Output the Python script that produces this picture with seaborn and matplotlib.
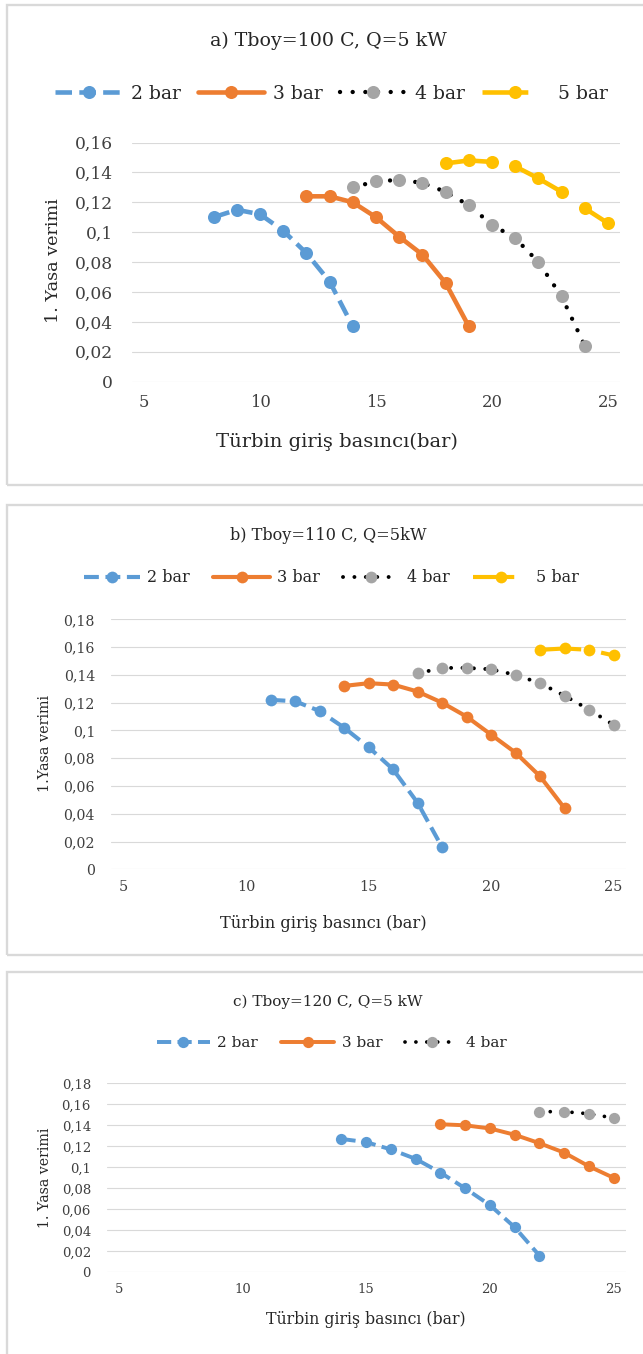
import matplotlib
matplotlib.use("Agg")
import matplotlib.pyplot as plt
import seaborn as sns
from matplotlib.patches import Rectangle
from matplotlib.ticker import MultipleLocator, FuncFormatter

# ---------------- data ----------------
series_labels = ["2 bar", "3 bar", "4 bar", "5 bar"]

a_x2 = [8, 9, 10, 11, 12, 13, 14]
a_y2 = [0.110, 0.115, 0.112, 0.101, 0.086, 0.067, 0.037]
a_x3 = [12, 13, 14, 15, 16, 17, 18, 19]
a_y3 = [0.124, 0.124, 0.120, 0.110, 0.097, 0.085, 0.066, 0.037]
a_x4 = [14, 15, 16, 17, 18, 19, 20, 21, 22, 23, 24]
a_y4 = [0.130, 0.134, 0.135, 0.133, 0.127, 0.118, 0.105, 0.096, 0.080, 0.057, 0.024]
a_x5 = [18, 19, 20, 21, 22, 23, 24, 25]
a_y5 = [0.146, 0.148, 0.147, 0.144, 0.136, 0.127, 0.116, 0.106]

b_x2 = [11, 12, 13, 14, 15, 16, 17, 18]
b_y2 = [0.122, 0.121, 0.114, 0.102, 0.088, 0.072, 0.048, 0.016]
b_x3 = [14, 15, 16, 17, 18, 19, 20, 21, 22, 23]
b_y3 = [0.132, 0.134, 0.133, 0.128, 0.120, 0.110, 0.097, 0.084, 0.067, 0.044]
b_x4 = [17, 18, 19, 20, 21, 22, 23, 24, 25]
b_y4 = [0.141, 0.145, 0.145, 0.144, 0.140, 0.134, 0.125, 0.115, 0.104]
b_x5 = [22, 23, 24, 25]
b_y5 = [0.158, 0.159, 0.158, 0.154]

c_x2 = [14, 15, 16, 17, 18, 19, 20, 21, 22]
c_y2 = [0.127, 0.124, 0.117, 0.108, 0.095, 0.080, 0.064, 0.043, 0.016]
c_x3 = [18, 19, 20, 21, 22, 23, 24, 25]
c_y3 = [0.141, 0.140, 0.137, 0.131, 0.123, 0.114, 0.101, 0.090]
c_x4 = [22, 23, 24, 25]
c_y4 = [0.153, 0.153, 0.151, 0.147]

titles = ["a) Tboy=100 C, Q=5 kW", "b) Tboy=110 C, Q=5kW", "c) Tboy=120 C, Q=5 kW"]
xlabels = ["Türbin giriş basıncı(bar)", "Türbin giriş basıncı (bar)", "Türbin giriş basıncı (bar)"]
ylabels = ["1. Yasa verimi", "1.Yasa verimi", "1. Yasa verimi"]
x_ticks = [5, 10, 15, 20, 25]

BLUE, ORANGE, GRAY, YELLOW = "#5B9BD5", "#ED7D31", "#A5A5A5", "#FFC000"
GRID = "#D9D9D9"

# ---------------- figure ----------------
sns.set_style("white")
plt.rcParams["font.family"] = ["DejaVu Serif"]
W, H = 643, 1354
fig = plt.figure(figsize=(W / 100, H / 100), dpi=100)
fig.patch.set_facecolor("white")


def fx(x):
    return x / W


def fy(y):
    return 1 - y / H


def frame(y0, y1):
    fig.add_artist(Rectangle((fx(7), fy(y1)), fx(660 - 7), (y1 - y0) / H,
                             transform=fig.transFigure, fill=False,
                             ec=GRID, lw=1.7, zorder=0))


def make_axes(left, right, top, bottom):
    return fig.add_axes([fx(left), fy(bottom), (right - left) / W, (bottom - top) / H])


def fmt_y(v, pos):
    if abs(v) < 1e-9:
        return "0"
    return f"{v:.2f}".rstrip("0").rstrip(".").replace(".", ",")


def draw_panel(ax, series, s, ymax, tick_fs, ypad, xpad):
    lw = 3.3 * s
    ms = 9.4 * s
    for (xs, ys, kind, lab) in series:
        common = dict(x=xs, y=ys, ax=ax, marker="o", markersize=ms,
                      markeredgewidth=0, label=lab, legend=False,
                      sort=False, estimator=None, clip_on=False)
        if kind == 2:
            sns.lineplot(**common, color=BLUE, linewidth=lw,
                         linestyle=(0, (3.6, 1.6)), dash_capstyle="butt")
        elif kind == 3:
            sns.lineplot(**common, color=ORANGE, linewidth=lw,
                         solid_capstyle="round")
        elif kind == 4:
            sns.lineplot(**common, color="black", linewidth=lw * 0.95,
                         linestyle=(0, (0.01, 2.9)), dash_capstyle="round",
                         markerfacecolor=GRAY, markeredgecolor=GRAY)
        else:
            sns.lineplot(**common, color=YELLOW, linewidth=lw,
                         linestyle=(3.5, (13.5, 4.9)), dash_capstyle="butt")
    ax.set_xlim(4.5, 25.5)
    ax.set_ylim(0, ymax)
    ax.set_xticks(x_ticks)
    ax.yaxis.set_major_locator(MultipleLocator(0.02))
    ax.yaxis.set_major_formatter(FuncFormatter(fmt_y))
    ax.grid(axis="y", color=GRID, lw=0.8)
    ax.grid(axis="x", visible=False)
    for sp in ax.spines.values():
        sp.set_visible(False)
    ax.tick_params(axis="y", length=0, pad=ypad, labelsize=tick_fs[0], colors="#404040")
    ax.tick_params(axis="x", length=0, pad=xpad, labelsize=tick_fs[1], colors="#404040")
    ax.set_facecolor("white")
    ax.set_axisbelow(True)


def finish(ax, title, tpos, tfs, xlabel, xpos, xfs, ylabel, ypos, yfs,
           lpos, lfs, hl, cs, htp):
    fig.text(fx(tpos[0]), fy(tpos[1]), title, ha="center", va="center",
             fontsize=tfs, color="#262626")
    ax.set_xlabel(xlabel, fontsize=xfs, color="#262626", va="center")
    ax.xaxis.set_label_coords(fx(xpos[0]), fy(xpos[1]), transform=fig.transFigure)
    ax.set_ylabel(ylabel, fontsize=yfs, color="#262626", va="center")
    ax.yaxis.set_label_coords(fx(ypos[0]), fy(ypos[1]), transform=fig.transFigure)
    h, l = ax.get_legend_handles_labels()
    ax.legend(h, l, loc="center", bbox_to_anchor=(fx(lpos[0]), fy(lpos[1])),
              bbox_transform=fig.transFigure, ncol=len(h), frameon=False,
              fontsize=lfs, handlelength=hl, columnspacing=cs,
              handletextpad=htp, borderpad=0, labelcolor="#262626")


# frames
frame(5, 485)
frame(505, 955)
frame(972, 1400)

# ---- panel a ----
ax_a = make_axes(132.4, 619.6, 142.5, 381.7)
draw_panel(ax_a, [(a_x2, a_y2, 2, series_labels[0]), (a_x3, a_y3, 3, series_labels[1]),
                  (a_x4, a_y4, 4, series_labels[2]), (a_x5, a_y5, 5, series_labels[3])],
           1.0, 0.16, (12.3, 11.8), 14, 9)
finish(ax_a, titles[0], (328, 41), 13.7, xlabels[0], (337, 442), 14,
       ylabels[0], (53, 261), 12.6, (331.5, 94), 13.5, 3.55, 0.9, 0.48)

# ---- panel b ----
ax_b = make_axes(111.25, 625.75, 619.3, 869.3)
draw_panel(ax_b, [(b_x2, b_y2, 2, series_labels[0]), (b_x3, b_y3, 3, series_labels[1]),
                  (b_x4, b_y4, 4, series_labels[2]), (b_x5, b_y5, 5, series_labels[3])],
           0.9, 0.18, (10.2, 10.4), 11.7, 8)
finish(ax_b, titles[1], (328, 535), 11.6, xlabels[1], (323, 923), 11.7,
       ylabels[1], (45, 744), 10.4, (331.5, 578), 11.5, 3.55, 1.45, 0.44)

# ---- panel c ----
ax_c = make_axes(106.5, 625.9, 1083.3, 1272.3)
draw_panel(ax_c, [(c_x2, c_y2, 2, series_labels[0]), (c_x3, c_y3, 3, series_labels[1]),
                  (c_x4, c_y4, 4, series_labels[2])],
           0.86, 0.18, (9.5, 9.5), 11.2, 7.5)
finish(ax_c, titles[2], (328, 1001.7), 11.0, xlabels[2], (366, 1320), 11.3,
       ylabels[2], (45, 1177.5), 10.2, (331.5, 1043.3), 11.0, 3.5, 1.48, 0.48)

fig.savefig("out.png", dpi=100, facecolor="white")
